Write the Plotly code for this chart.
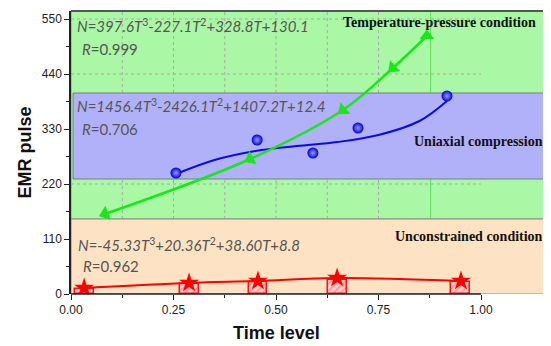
import plotly.graph_objects as go

# ---- data ----
tp_T = [0.868, 0.785, 0.663, 0.437, 0.083]          # temperature-pressure (drawn from top end)
tp_N = [516, 452, 368, 270, 160]

uc_T = [0.256, 0.454, 0.590, 0.700, 0.917]          # uniaxial compression points
uc_N = [242, 308, 282, 332, 396]
uc_fit_T = [0.256, 0.35, 0.45, 0.55, 0.65, 0.75, 0.85, 0.917]
uc_fit_N = [240, 268, 286, 296, 304, 318, 346, 386]

un_T = [0.032, 0.288, 0.456, 0.649, 0.951]          # unconstrained condition
un_N = [12, 22, 26, 32, 26]
un_bar = [10, 20, 24, 28, 24]

x_ticks = [0, 0.25, 0.5, 0.75, 1.0]
x_tick_text = ["0.00", "0.25", "0.50", "0.75", "1.00"]
y_ticks = [0, 110, 220, 330, 440, 550]

eq_tp = "<i>N</i>=<i>397.6T</i><sup>3</sup>-<i>227.1T</i><sup>2</sup>+<i>328.8T</i>+<i>130.1</i>"
eq_uc = "<i>N</i>=<i>1456.4T</i><sup>3</sup>-<i>2426.1T</i><sup>2</sup>+<i>1407.2T</i>+<i>12.4</i>"
eq_un = "<i>N</i>=<i>-45.33T</i><sup>3</sup>+<i>20.36T</i><sup>2</sup>+<i>38.60T</i>+<i>8.8</i>"
r_tp, r_uc, r_un = "<i>R</i>=0.999", "<i>R</i>=0.706", "<i>R</i>=0.962"

XMAX, YMAX = 1.1707, 566

fig = go.Figure()

# hatched bars
fig.add_trace(go.Bar(
    x=un_T, y=un_bar, width=0.046,
    marker=dict(color="#fbb8b0", line=dict(color="#ff1010", width=1.5),
                pattern=dict(shape="/", fgcolor="#ff5050", bgcolor="#fcd0c8", size=5, solidity=0.3)),
    hoverinfo="skip", showlegend=False))

# unconstrained line + stars
fig.add_trace(go.Scatter(
    x=un_T, y=un_N, mode="lines+markers",
    line=dict(color="#ff0000", width=2, shape="spline"),
    marker=dict(symbol="star", size=15, color="#ff0000", line=dict(width=0)),
    showlegend=False))

# uniaxial compression fit + points
fig.add_trace(go.Scatter(
    x=uc_fit_T, y=uc_fit_N, mode="lines",
    line=dict(color="#0a0ae6", width=2, shape="spline"), showlegend=False))
fig.add_trace(go.Scatter(
    x=uc_T, y=uc_N, mode="markers",
    marker=dict(symbol="circle", size=11, color="#0000d8",
                gradient=dict(type="radial", color="#9a9aff"), line=dict(width=0)),
    showlegend=False))

# temperature-pressure line with arrow-like triangles
fig.add_trace(go.Scatter(
    x=tp_T, y=tp_N, mode="lines+markers",
    line=dict(color="#18e818", width=2.5, shape="spline"),
    marker=dict(symbol="triangle-up", size=13, color="#18e818", angleref="previous",
                line=dict(width=0)),
    showlegend=False))
fig.add_trace(go.Scatter(
    x=tp_T[:1], y=tp_N[:1], mode="markers",
    marker=dict(symbol="triangle-up", size=13, color="#18e818", line=dict(width=0)),
    showlegend=False))

shapes = []
shapes.append(dict(type="rect", xref="x", yref="y", x0=0, x1=XMAX, y0=150, y1=YMAX,
                   fillcolor="#aaf7a6", line=dict(color="#8a9a8a", width=1), layer="below"))
for gx in [0.125, 0.25, 0.375, 0.5, 0.625, 0.75]:
    shapes.append(dict(type="line", xref="x", yref="y", x0=gx, x1=gx, y0=150, y1=YMAX,
                       line=dict(color="#a8a8a8", width=1, dash="dot"), layer="below"))
shapes.append(dict(type="line", xref="x", yref="y", x0=0.877, x1=0.877, y0=150, y1=YMAX,
                   line=dict(color="#5ee05e", width=1), layer="below"))
for gy in [220, 440, 550]:
    shapes.append(dict(type="line", xref="x", yref="y", x0=0, x1=1.0, y0=gy, y1=gy,
                       line=dict(color="#a8a8a8", width=1, dash="dot"), layer="below"))
shapes.append(dict(type="rect", xref="x", yref="y", x0=0.005, x1=XMAX + 0.01, y0=230, y1=402,
                   fillcolor="#b1b1f9", line=dict(color="#7a7a8a", width=1), layer="below"))
shapes.append(dict(type="rect", xref="x", yref="y", x0=0, x1=XMAX + 0.01, y0=0, y1=150,
                   fillcolor="#fde3c3", line=dict(color="#8a8a8a", width=1), layer="below"))
shapes.append(dict(type="line", xref="paper", yref="paper", x0=0, x1=1, y0=1, y1=1,
                   line=dict(color="#555555", width=2)))
shapes.append(dict(type="line", xref="x", yref="y", x0=1.166, x1=1.166, y0=14, y1=YMAX,
                   line=dict(color="#ff55ff", width=1.5)))
shapes.append(dict(type="line", xref="x", yref="paper", x0=0, x1=1.0, y0=0, y1=0,
                   line=dict(color="#222222", width=1.5)))
fig.update_layout(shapes=shapes)

eq_font = dict(family="Lato, Open Sans, sans-serif", size=15, color="#555555")
lab_font = dict(family="Liberation Serif, Times New Roman, serif", size=14, color="#111111")
ann = []
for txt, x, y in [(eq_tp, 0.01, 538), (r_tp, 0.022, 490), (eq_uc, 0.01, 378), (r_uc, 0.022, 330),
                  (eq_un, 0.012, 100), (r_un, 0.024, 56)]:
    ann.append(dict(text=txt, x=x, y=y, xref="x", yref="y", xanchor="left", yanchor="middle",
                    showarrow=False, font=eq_font))
for txt, x, y in [("<b>Temperature-pressure condition</b>", 1.139, 544),
                  ("<b>Uniaxial compression</b>", 1.157, 306),
                  ("<b>Unconstrained condition</b>", 1.157, 116)]:
    ann.append(dict(text=txt, x=x, y=y, xref="x", yref="y", xanchor="right", yanchor="middle",
                    showarrow=False, font=lab_font))
ann.append(dict(text="<b>Time level</b>", x=0.5, xref="x", y=-0.138, yref="paper",
                xanchor="center", yanchor="middle", showarrow=False,
                font=dict(family="Liberation Sans, Arial, sans-serif", size=18, color="#111111")))
ann.append(dict(text="<b>EMR pulse</b>", x=-0.096, xref="paper", y=0.5, yref="paper",
                xanchor="center", yanchor="middle", textangle=-90, showarrow=False,
                font=dict(family="Liberation Sans, Arial, sans-serif", size=18, color="#111111")))
fig.update_layout(annotations=ann)

fig.update_xaxes(range=[0, XMAX], tickvals=x_ticks, ticktext=x_tick_text, ticks="outside",
                 ticklen=5, tickwidth=1.2, tickcolor="#222", showline=False, showgrid=False,
                 zeroline=False, minor=dict(tickvals=[0.125, 0.375, 0.625, 0.875], ticks="outside",
                                            ticklen=3, tickcolor="#222"),
                 tickfont=dict(family="Liberation Sans, Arial, sans-serif", size=12, color="#222"))
fig.update_yaxes(range=[0, YMAX], tickvals=y_ticks, ticks="outside", ticklen=5, tickwidth=1.2,
                 tickcolor="#222", showline=True, linecolor="#222", linewidth=1.5, showgrid=False,
                 zeroline=False, minor=dict(tickvals=[55, 165, 275, 385, 495], ticks="outside",
                                            ticklen=3, tickcolor="#222"),
                 tickfont=dict(family="Liberation Sans, Arial, sans-serif", size=12, color="#222"))

# the page adds an 8px body margin at top/left, so the figure is 8px smaller
fig.update_layout(width=543, height=338, margin=dict(l=63, r=0, t=3, b=52, autoexpand=False),
                  paper_bgcolor="white", plot_bgcolor="white", showlegend=False, bargap=0)
fig.write_html("out.html")
